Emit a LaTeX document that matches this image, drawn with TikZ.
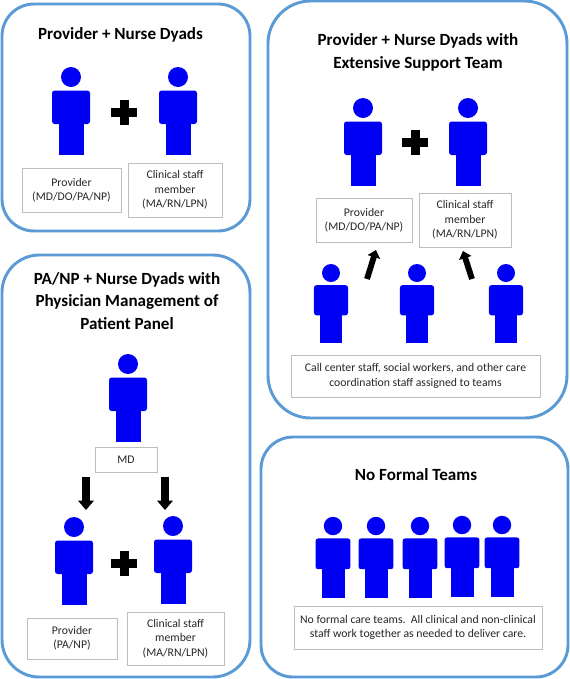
\documentclass[tikz,border=0pt]{standalone}
\usepackage{fontspec}
\setmainfont{Carlito}
\usetikzlibrary{arrows.meta}
\definecolor{panelBlue}{RGB}{91, 155, 213}
\definecolor{personBlue}{RGB}{0, 0, 245}
\definecolor{boxGray}{RGB}{190, 190, 190}
\def\pw{0.75pt}
\tikzset{
  panel/.style={draw=panelBlue, line width=2.2pt, rounded corners=24pt},
  titletext/.style={font=\fontsize{12.8}{17}\selectfont\bfseries, align=center, inner sep=0pt},
  infobox/.style={draw=boxGray, line width=0.7pt, align=center, inner sep=0pt,
    font=\fontsize{8.8}{10.7}\selectfont, text=black!85},
  blockarrow/.style={line width=6pt, -{Triangle[width=11.5pt, length=7pt]}},
  slimarrow/.style={line width=4.4pt, -{Triangle[width=9.5pt, length=5.5pt]}},
  pics/person/.style={code={
    \fill[personBlue] (0,0) circle (10);
    \fill[personBlue, rounded corners=2pt] (-19,13.5) rectangle (19,47);
    \fill[personBlue] (-12.5,45) rectangle (12.5,78);
  }},
  pics/plussign/.style={code={
    \fill[black] (-13,-4.5) rectangle (13,4.5);
    \fill[black] (-4.5,-12.5) rectangle (4.5,12.5);
  }},
}

\begin{document}
\begin{tikzpicture}[x=0.75pt, y=-0.75pt]
  \useasboundingbox (0,0) rectangle (570,679);

  % Outer panels
  \draw[panel] (2,4) rectangle (250,231);
  \draw[panel, rounded corners=32pt] (268,1) rectangle (567,418);
  \draw[panel, rounded corners=28pt] (2,255) rectangle (250,677);
  \draw[panel] (261,437) rectangle (568,677);

  % Provider + nurse
  \node[titletext] (titleA) at (120.5,35) {Provider + Nurse Dyads};
  \pic at (71,77) {person};
  \pic at (178,77) {person};
  \pic at (124,112) {plussign};
  \node[infobox, minimum width=99*\pw, minimum height=44*\pw] (provA) at (71.5,190) {Provider\\(MD/DO/PA/NP)};
  \node[infobox, minimum width=94*\pw, minimum height=54*\pw] (clinA) at (175,190) {Clinical staff\\member\\(MA/RN/LPN)};

  % Provider + nurse with support team
  \node[titletext] (titleB) at (418,52.5) {Provider + Nurse Dyads with\\Extensive Support Team};
  \pic at (363,108) {person};
  \pic at (468,108) {person};
  \pic at (415,142) {plussign};
  \node[infobox, minimum width=96*\pw, minimum height=44*\pw] (provB) at (364,220) {Provider\\(MD/DO/PA/NP)};
  \node[infobox, minimum width=92*\pw, minimum height=54*\pw] (clinB) at (465,220) {Clinical staff\\member\\(MA/RN/LPN)};
  \foreach \xx in {331,417,506}
    \pic[scale=0.9] at (\xx,273) {person};
  \node[infobox, minimum width=249*\pw, minimum height=42*\pw] (teamB) at (415.5,376) {Call center staff, social workers, and other care\\coordination staff assigned to teams};
  \coordinate (upL) at (367,279);
  \coordinate (tipL) at (376,250);
  \coordinate (upR) at (472,279);
  \coordinate (tipR) at (463,251);
  \draw[slimarrow] (upL) -- (tipL);
  \draw[slimarrow] (upR) -- (tipR);

  % PA/NP + nurse with physician
  \node[titletext] (titleC) at (127,301) {PA/NP + Nurse Dyads with\\Physician Management of\\Patient Panel};
  \pic at (128,364) {person};
  \node[infobox, minimum width=62*\pw, minimum height=25*\pw] (mdC) at (126,459.5) {MD};
  \pic at (74,527) {person};
  \pic at (173,526) {person};
  \pic at (124,563) {plussign};
  \node[infobox, minimum width=90*\pw, minimum height=41*\pw] (provC) at (72,638.5) {Provider\\(PA/NP)};
  \node[infobox, minimum width=97*\pw, minimum height=53*\pw] (clinC) at (175.5,638.5) {Clinical staff\\member\\(MA/RN/LPN)};
  \coordinate (downL) at (86,477);
  \coordinate (headL) at (86,510);
  \coordinate (downR) at (165,477);
  \coordinate (headR) at (165,510);
  \draw[blockarrow] (downL) -- (headL);
  \draw[blockarrow] (downR) -- (headR);

  % No teams
  \node[titletext] (titleD) at (416,475) {No Formal Teams};
  \foreach \xx/\yy in {333/526,376/526,420/526,462/525,502/525}
    \pic[scale=0.92] at (\xx,\yy) {person};
  \node[infobox, minimum width=248*\pw, minimum height=43*\pw] (noteD) at (418,627.5) {No formal care teams.\ \ All clinical and non-clinical\\staff work together as needed to deliver care.};
\end{tikzpicture}
\end{document}
